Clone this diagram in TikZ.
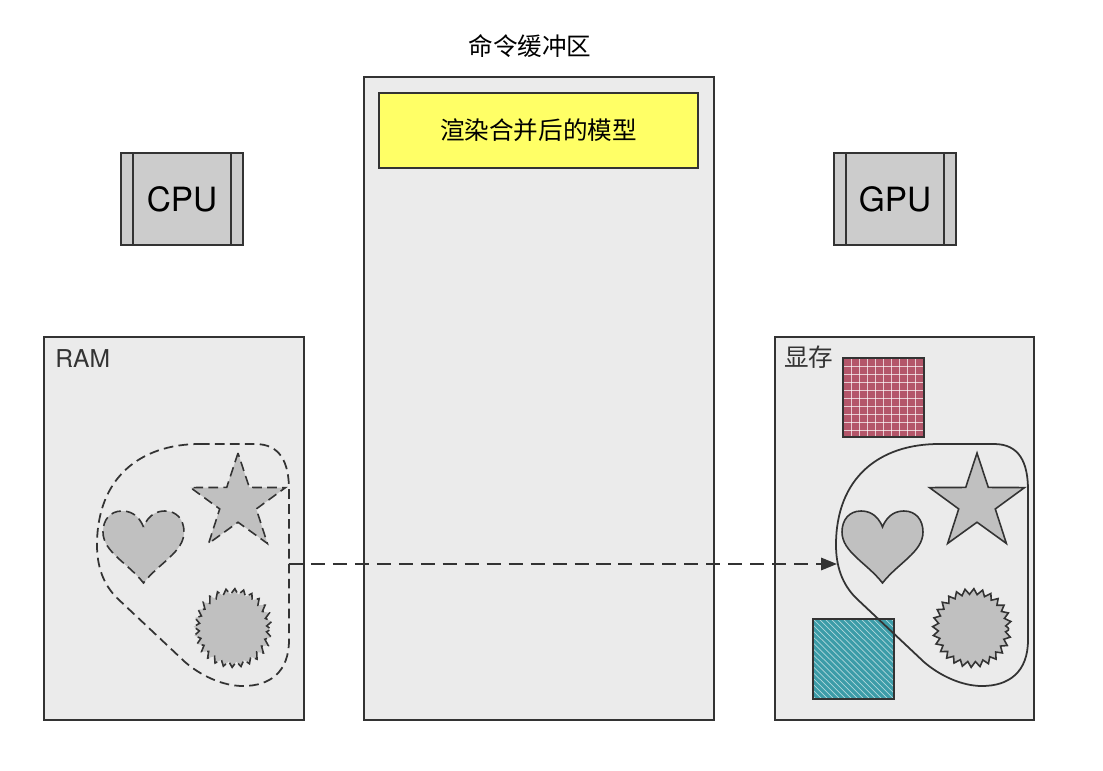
\documentclass[tikz,border=0pt]{standalone}
\usepackage{fontspec}
\setmainfont{TeX Gyre Heros}
\newfontfamily\cjk{Noto Sans CJK SC}
\usetikzlibrary{arrows.meta,calc,fit,shapes.geometric,decorations.pathmorphing}

\definecolor{boxgray}{HTML}{EBEBEB}
\definecolor{chipgray}{HTML}{CCCCCC}
\definecolor{shapegray}{HTML}{C0C0C0}
\definecolor{edgegray}{HTML}{333333}
\definecolor{noteyellow}{HTML}{FFFF66}
\definecolor{texred}{HTML}{B4566A}
\definecolor{texteal}{HTML}{3C9CA8}

\tikzset{
  membox/.style={draw=edgegray, line width=0.7pt, fill=boxgray, inner sep=0pt},
  notebox/.style={draw=edgegray, line width=1pt, fill=noteyellow, inner sep=0pt},
  chip/.style={draw=edgegray, line width=0.7pt, fill=chipgray,
    minimum width=24.4mm, minimum height=18.4mm, font=\fontsize{19}{22}\selectfont,
    path picture={
      \draw[edgegray, line width=0.7pt]
        ([xshift=2.4mm]path picture bounding box.north west) --
        ([xshift=2.4mm]path picture bounding box.south west);
      \draw[edgegray, line width=0.7pt]
        ([xshift=-2.4mm]path picture bounding box.north east) --
        ([xshift=-2.4mm]path picture bounding box.south east);
    }},
  boxlabel/.style={anchor=base west, inner sep=0pt, text=edgegray},
  loosedash/.style={dash pattern=on 5.5pt off 3pt},
  piece/.style={draw=edgegray, line width=0.9pt, fill=shapegray},
  flowarrow/.style={draw=edgegray, line width=1.1pt, dash pattern=on 8pt off 4.5pt,
    -{Triangle[length=9pt,width=7pt]}},
}

\begin{document}
\begin{tikzpicture}[x=0.02cm, y=-0.02cm]
  \fill[white] (0,0) rectangle (1103,771);

  % command buffer
  \node[membox, fit={(364,77) (714,720)}] (buffer) {};
  \node[font=\cjk\fontsize{14}{16}\selectfont] (title) at (530,46) {命令缓冲区};
  \node[notebox, fit={(379,93) (698,168)},
    label={[font=\cjk\fontsize{14}{16}\selectfont]center:渲染合并后的模型}] (merged) {};

  % processors
  \node[chip] (cpu) at (182,199) {CPU};
  \node[chip] (gpu) at (895,199) {GPU};

  % memories
  \node[membox, fit={(44,337) (304,720)}] (ram) {};
  \node[boxlabel, font=\fontsize{14}{16}\selectfont] (ramlabel) at (55,367) {RAM};
  \node[membox, fit={(775,337) (1034,720)}] (vram) {};
  \node[boxlabel, font=\cjk\fontsize{14}{16}\selectfont] (vramlabel) at (784,366) {显存};

  % textures
  \fill[texred] (843,358) rectangle (924,437);
  \foreach \k in {851,859,...,917} {
    \draw[white, opacity=0.7, line width=0.5pt] (\k,358) -- (\k,437);
    \draw[white, opacity=0.7, line width=0.5pt] (843,\k-485) -- (924,\k-485);
  }
  \draw[edgegray, line width=0.8pt] (843,358) rectangle (924,437);

  \begin{scope}
    \clip (813,619) rectangle (894,699);
    \fill[texteal] (813,619) rectangle (894,699);
    \foreach \k in {-84,-78,...,84}
      \draw[white, opacity=0.6, line width=0.4pt] (813+\k,619) -- (894+\k,699);
  \end{scope}
  \draw[edgegray, line width=0.8pt] (813,619) rectangle (894,699);

  % model groups
  \foreach \gx/\gline/\gname in {0/loosedash/ramgroup, 739/solid/vramgroup} {
    \begin{scope}[shift={(\gx,0)}, \gline]
      \draw[edgegray, line width=1pt] (200,444) -- (255,444)
        .. controls (280,444) and (289,462) .. (289,490) -- (289,640)
        .. controls (289,672) and (270,686) .. (243,686)
        .. controls (222,686) and (200,675) .. (185,662) -- (117,598)
        .. controls (103,584) and (97,566) .. (97,545)
        .. controls (97,478) and (140,444) .. (200,444) -- cycle;
      \coordinate (\gname-e) at (289,564);
      \coordinate (\gname-w) at (98,564);
      % heart
      \draw[piece] (143.5,527) .. controls (138,513) and (128,511) .. (122,511)
        .. controls (110,511) and (103,520) .. (103,532)
        .. controls (103,552) and (128,563) .. (143.5,583)
        .. controls (159,563) and (184,552) .. (184,532)
        .. controls (184,520) and (177,511) .. (165,511)
        .. controls (159,511) and (149,513) .. (143.5,527) -- cycle;
      % star
      \node[piece, star, star points=5, star point ratio=2.6, minimum size=20mm,
        inner sep=0pt] (\gname-star) at (238,503) {};
      % gear
      \draw[piece, decorate, decoration={zigzag, segment length=4.7pt, amplitude=1.6pt}]
        (233,628) circle[radius=7.3mm];
    \end{scope}
  }

  \draw[flowarrow] (ramgroup-e) -- (vramgroup-w);
\end{tikzpicture}
\end{document}
